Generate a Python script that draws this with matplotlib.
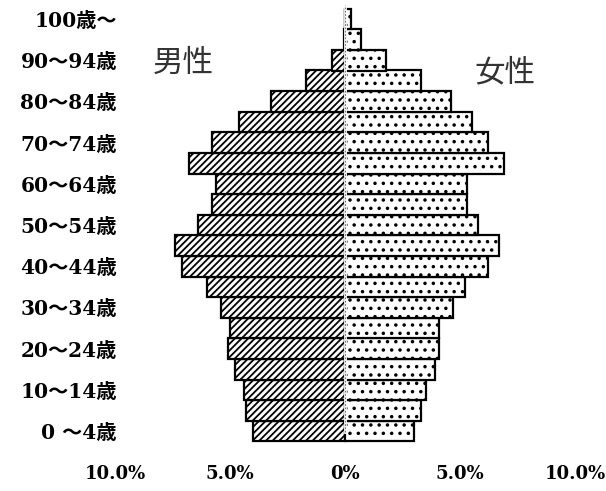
import matplotlib
matplotlib.use("Agg")
import matplotlib.pyplot as plt
import numpy as np

# age groups, bottom to top
ages = ["0-4", "5-9", "10-14", "15-19", "20-24", "25-29", "30-34", "35-39",
        "40-44", "45-49", "50-54", "55-59", "60-64", "65-69", "70-74",
        "75-79", "80-84", "85-89", "90-94", "95-99", "100+"]

# share of each sex (%)
male = [4.0, 4.3, 4.4, 4.8, 5.1, 5.0, 5.4, 6.0, 7.1, 7.4, 6.4, 5.8, 5.6,
        6.8, 5.8, 4.6, 3.2, 1.7, 0.57, 0.05, 0.0]
female = [3.0, 3.3, 3.5, 3.9, 4.1, 4.1, 4.7, 5.2, 6.2, 6.7, 5.8, 5.3, 5.3,
          6.9, 6.2, 5.5, 4.6, 3.3, 1.8, 0.7, 0.25]

# only every other group is labelled
age_labels = ["0 〜4歳", "", "10〜14歳", "", "20〜24歳", "", "30〜34歳", "",
              "40〜44歳", "", "50〜54歳", "", "60〜64歳", "", "70〜74歳", "",
              "80〜84歳", "", "90〜94歳", "", "100歳〜"]

xticks = [-10, -5, 0, 5, 10]
xtick_labels = ["10.0%", "5.0%", "0%", "5.0%", "10.0%"]

plt.rcParams['hatch.linewidth'] = 1.3
serif = ['DejaVu Serif', 'Noto Sans CJK JP']
cjk = ['Noto Sans CJK JP', 'DejaVu Sans']

fig = plt.figure(figsize=(6.06, 4.91), dpi=100)
ax = fig.add_axes([60 / 606, 36 / 491, 546 / 606, 455 / 491])

y = np.arange(len(ages))
ax.barh(y, -np.array(male), height=1.0, color='white', edgecolor='black',
        linewidth=1.6, hatch='/////')
ax.barh(y, female, height=1.0, color='white', edgecolor='black',
        linewidth=1.6, hatch='..')

# light break along the centre line, as in the print
ax.axvline(0, ymin=0.05, ymax=0.99, color='white', lw=2.0)
ax.axvline(0, ymin=0.05, ymax=0.99, color='#555555', lw=0.6, ls=(0, (2, 2)))

ax.set_xlim((60 - 345) / 23, (606 - 345) / 23)
ax.set_ylim((431 - 455) / 20.6, 431 / 20.6)

ax.set_xticks(xticks)
ax.set_xticklabels(xtick_labels, family=serif, fontsize=13, fontweight='bold')
ax.set_yticks(y)
ax.set_yticklabels(age_labels, family=serif, fontsize=14.5, fontweight='bold')
ax.tick_params(axis='x', length=0, pad=7)
ax.tick_params(axis='y', length=0, pad=-41)

for s in ax.spines.values():
    s.set_visible(False)

ax.text(-7.05, 17.85, "男性", family=cjk, fontsize=22, color='#333333',
        ha='center', va='center')
ax.text(6.95, 17.4, "女性", family=cjk, fontsize=22, color='#333333',
        ha='center', va='center')

fig.savefig("out.png", dpi=100)
